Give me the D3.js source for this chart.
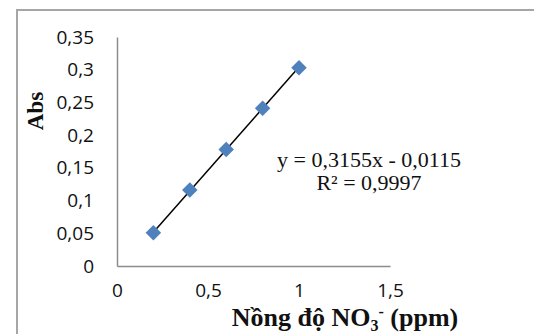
<!DOCTYPE html>
<html>
<head>
<meta charset="utf-8">
<script src="https://cdn.jsdelivr.net/npm/d3@7"></script>
<style>
  body { margin: 0; background: #fff; }
  svg { display: block; }
</style>
</head>
<body>
<svg width="534" height="334"></svg>
<script>
// nong do NO3- (ppm) vs Abs
const concentrations = [0.2, 0.4, 0.6, 0.8, 1.0];
const absValues = [0.051, 0.116, 0.178, 0.241, 0.303];
const xTicks = [0, 0.5, 1, 1.5];
const yTicks = [0, 0.05, 0.1, 0.15, 0.2, 0.25, 0.3, 0.35];
const slope = 0.3155, intercept = -0.0115;
const eqLines = ["y = 0,3155x - 0,0115", "R² = 0,9997"];

const width = 534, height = 334;
const margin = {top: 37, right: 144, bottom: 68, left: 117};

const svg = d3.select("svg");

// chart frame (only top and left show in the crop)
svg.append("path")
  .attr("d", `M17,${height} V10 H${width}`)
  .attr("fill", "none")
  .attr("stroke", "#a6a6a6")
  .attr("stroke-width", 2);

const x = d3.scaleLinear()
  .domain([0, 1.5])
  .range([margin.left, width - margin.right]);

const y = d3.scaleLinear()
  .domain([0, 0.35])
  .range([height - margin.bottom, margin.top]);

const fmt = d => String(d).replace(".", ",");

const xAxis = g => g
  .attr("transform", `translate(0,${y(0)})`)
  .call(d3.axisBottom(x).tickValues(xTicks).tickFormat(fmt).tickSize(0).tickPadding(18))
  .call(g => g.select(".domain").attr("stroke", "#8c8c8c").attr("stroke-width", 1.5))
  .call(g => g.selectAll("text")
    .style("font-family", "'Open Sans', sans-serif")
    .style("font-size", "19px")
    .attr("fill", "#111"));

const yAxis = g => g
  .attr("transform", `translate(${x(0)},0)`)
  .call(d3.axisLeft(y).tickValues(yTicks).tickFormat(fmt).tickSize(0).tickPadding(23))
  .call(g => g.select(".domain").attr("stroke", "#8c8c8c").attr("stroke-width", 1.5))
  .call(g => g.selectAll("text")
    .style("font-family", "'Open Sans', sans-serif")
    .style("font-size", "19px")
    .attr("fill", "#111"));

svg.append("g").call(xAxis);
svg.append("g").call(yAxis);

// trendline over data range
const x0 = d3.min(concentrations), x1 = d3.max(concentrations);
svg.append("line")
  .attr("x1", x(x0)).attr("y1", y(slope * x0 + intercept))
  .attr("x2", x(x1)).attr("y2", y(slope * x1 + intercept))
  .attr("stroke", "#000")
  .attr("stroke-width", 1.5);

const diamond = d3.symbol().type(d3.symbolSquare).size(120);
svg.append("g")
  .selectAll("path")
  .data(concentrations.map((c, i) => ({c, a: absValues[i]})))
  .join("path")
    .attr("d", diamond)
    .attr("transform", d => `translate(${x(d.c)},${y(d.a)}) rotate(45)`)
    .attr("fill", "#4f81bd");

// equation
svg.append("g")
  .selectAll("text")
  .data(eqLines)
  .join("text")
    .attr("x", 369)
    .attr("y", (d, i) => 167 + i * 23)
    .attr("text-anchor", "middle")
    .attr("font-family", "'Liberation Serif', serif")
    .attr("font-size", 22)
    .attr("fill", "#111")
    .text(d => d);

// axis titles
svg.append("text")
  .attr("transform", "translate(43,111) rotate(-90)")
  .attr("text-anchor", "middle")
  .attr("font-family", "'Liberation Serif', serif")
  .attr("font-weight", "bold")
  .attr("font-size", 23)
  .attr("fill", "#111")
  .text("Abs");

const xt = svg.append("text")
  .attr("x", 345)
  .attr("y", 326)
  .attr("text-anchor", "middle")
  .attr("font-family", "'Liberation Serif', serif")
  .attr("font-weight", "bold")
  .attr("font-size", 26)
  .attr("fill", "#111");
xt.append("tspan").text("Nồng độ NO");
xt.append("tspan").attr("font-size", 16).attr("dy", 5).text("3");
xt.append("tspan").attr("font-size", 16).attr("dy", -14).text("-");
xt.append("tspan").attr("dy", 9).text(" (ppm)");
</script>
</body>
</html>
